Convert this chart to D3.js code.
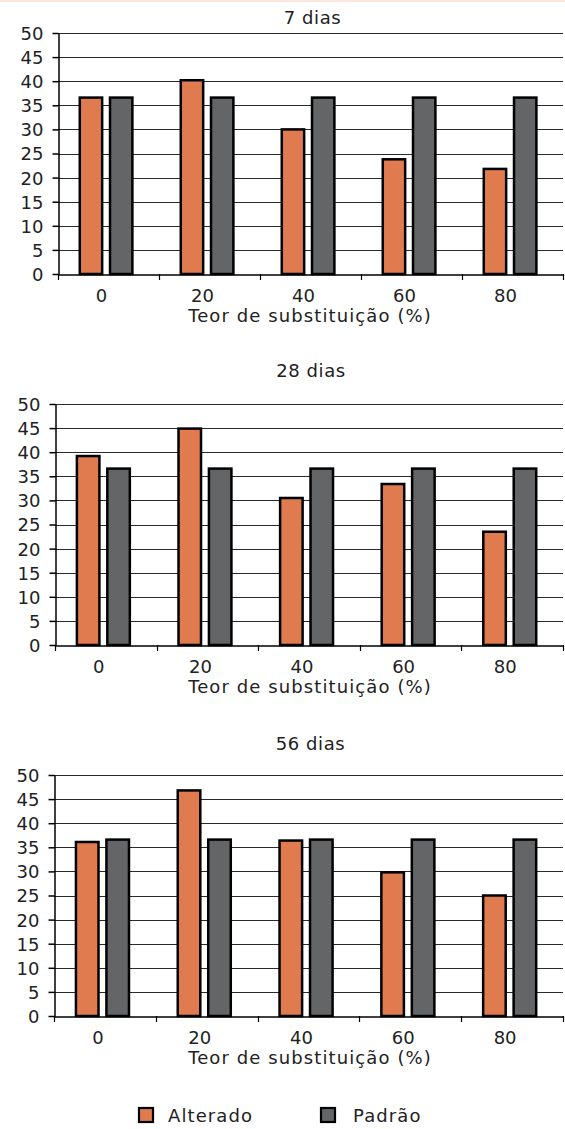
<!DOCTYPE html>
<html><head><meta charset="utf-8">
<script src="https://cdn.jsdelivr.net/npm/d3@7"></script>
<style>body{margin:0;background:#fff;}svg{display:block;font-family:"DejaVu Sans",sans-serif;}</style>
</head><body>
<svg id="c" width="565" height="1129"></svg>
<script>
const categories = ["0","20","40","60","80"];
const panelTitles = ["7 dias","28 dias","56 dias"];
const alterado7 = [36.6, 40.2, 30.0, 23.8, 21.8];
const padrao7 = [36.6, 36.6, 36.6, 36.6, 36.6];
const alterado28 = [39.2, 44.9, 30.5, 33.4, 23.5];
const padrao28 = [36.6, 36.6, 36.6, 36.6, 36.6];
const alterado56 = [36.1, 46.8, 36.4, 29.8, 25.0];
const padrao56 = [36.6, 36.6, 36.6, 36.6, 36.6];
const yTicks = [0,5,10,15,20,25,30,35,40,45,50];
const seriesNames = ["Alterado","Padrão"];
const xTitle = "Teor de substituição (%)";

const colors = {"Alterado":"#e07a4f","Padrão":"#646567"};
const svg = d3.select("#c");
svg.append("rect").attr("x",0).attr("y",0).attr("width",565).attr("height",2).attr("fill","#fbe6dc");

const panels = [
  {title:panelTitles[0], a:alterado7, p:padrao7, top:33, left:58, titleOff:9},
  {title:panelTitles[1], a:alterado28, p:padrao28, top:404, left:55, titleOff:27},
  {title:panelTitles[2], a:alterado56, p:padrao56, top:775, left:54, titleOff:25}
];
const H = 241, right = 563;
const FS = 18;

panels.forEach(pn => {
  const g = svg.append("g");
  const x = d3.scaleBand().domain(categories).range([pn.left, right]).paddingInner(0).paddingOuter(0);
  const y = d3.scaleLinear().domain([0,50]).range([pn.top+H, pn.top]);
  const inner = d3.scaleBand().domain(seriesNames).range([0, x.bandwidth()]).paddingInner(0.26).paddingOuter(0.8).align(0.45);
  g.selectAll("line.grid").data(yTicks.filter(d=>d>0)).join("line")
    .attr("x1",pn.left).attr("x2",right)
    .attr("y1",d=>Math.round(y(d))+0.5).attr("y2",d=>Math.round(y(d))+0.5)
    .attr("stroke","#2a2a2a").attr("stroke-width",1);
  g.append("text").attr("x",(pn.left+right)/2+2).attr("y",pn.top-pn.titleOff).attr("text-anchor","middle")
    .attr("font-size",FS).attr("letter-spacing",0.6).attr("fill","#222").text(pn.title);
  const data = categories.map((c,i)=>[{c,s:"Alterado",v:pn.a[i]},{c,s:"Padrão",v:pn.p[i]}]).flat();
  g.selectAll("rect.bar").data(data).join("rect")
    .attr("x",d=>x(d.c)+inner(d.s)).attr("width",inner.bandwidth())
    .attr("y",d=>y(d.v)).attr("height",d=>y(0)-y(d.v))
    .attr("fill",d=>colors[d.s]).attr("stroke","#000").attr("stroke-width",2.5);
  const ya = d3.axisLeft(y).tickValues(yTicks).tickSize(6).tickSizeOuter(0).tickPadding(9);
  const yg = g.append("g").attr("transform",`translate(${pn.left+0.5},0)`).call(ya);
  yg.selectAll("text").attr("font-size",FS).attr("fill","#222").attr("font-family","DejaVu Sans").attr("dy","0.36em");
  yg.selectAll("line,path").attr("stroke","#000").attr("stroke-width",1.5);
  const xa = d3.axisBottom(x).tickSize(0).tickPadding(15);
  const xg = g.append("g").attr("transform",`translate(0,${pn.top+H+0.5})`).call(xa);
  xg.select("path").attr("stroke","#000").attr("stroke-width",1.5);
  xg.selectAll("text").attr("font-size",FS).attr("fill","#222").attr("font-family","DejaVu Sans").attr("dx",-7);
  const bounds = categories.map(c=>x(c)).concat([right]);
  g.selectAll("line.bt").data(bounds).join("line")
    .attr("x1",d=>Math.round(d)+0.5).attr("x2",d=>Math.round(d)+0.5)
    .attr("y1",pn.top+H).attr("y2",pn.top+H+6).attr("stroke","#000").attr("stroke-width",1.2);
  g.append("text").attr("x",310).attr("y",pn.top+H+48).attr("text-anchor","middle")
    .attr("font-size",FS).attr("letter-spacing",1.1).attr("fill","#222").text(xTitle);
});

const leg = svg.append("g");
const legItems = [{s:"Alterado",x:139},{s:"Padrão",x:321}];
legItems.forEach(it=>{
  leg.append("rect").attr("x",it.x).attr("y",1108).attr("width",14).attr("height",14)
    .attr("fill",colors[it.s]).attr("stroke","#000").attr("stroke-width",2.2);
  leg.append("text").attr("x",it.s==="Alterado"?168:353).attr("y",1122).attr("font-size",FS).attr("letter-spacing",1.1).attr("fill","#222").text(it.s);
});
</script>
</body></html>
